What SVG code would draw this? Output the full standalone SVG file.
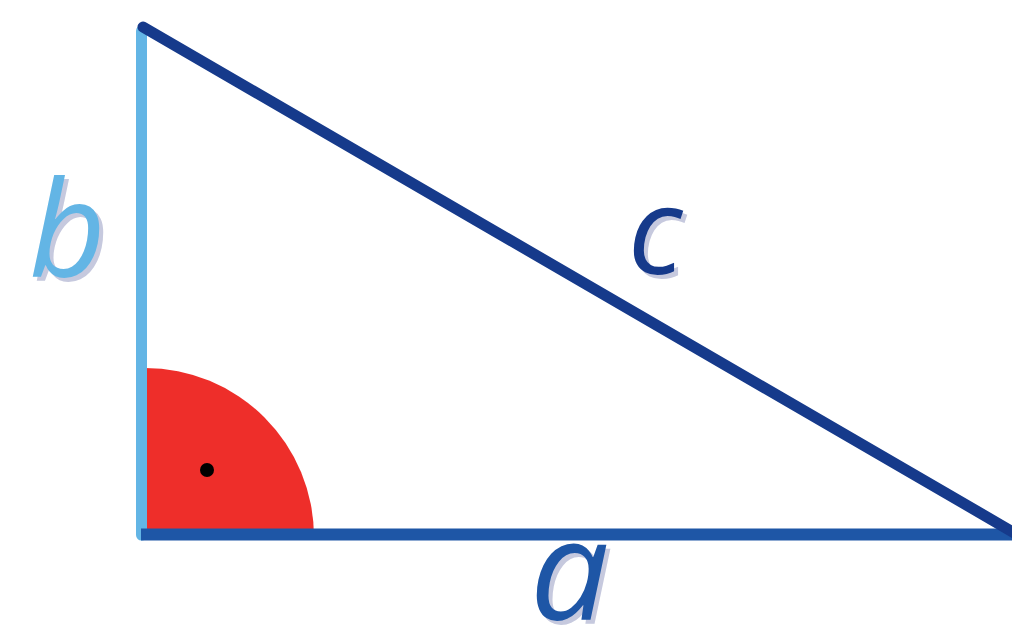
<svg xmlns="http://www.w3.org/2000/svg" width="1012" height="625" viewBox="0 0 1012 625">
<style>
.lbl{font-family:"Open Sans","Liberation Sans",sans-serif;font-style:italic;font-weight:500}
.sh{fill:#c6c9de}
</style>
<rect width="1012" height="625" fill="#ffffff"/>
<g id="angle">
<path d="M145,537 L145,368 A169,169 0 0 1 314,537 Z" fill="#ee2e2a"/>
<circle cx="207" cy="470" r="7" fill="#000"/>
</g>
<g id="edges">
<line id="edge-b" x1="141.5" y1="31" x2="141.5" y2="535" stroke="#63b5e5" stroke-width="11" stroke-linecap="round"/>
<line id="edge-a" x1="141" y1="534.5" x2="1012" y2="534.5" stroke="#1e56a6" stroke-width="12"/>
<line id="edge-c" x1="143" y1="27" x2="1018" y2="535" stroke="#163a8b" stroke-width="11" stroke-linecap="round"/>
</g>
<g id="label-b">
<text class="lbl sh" x="33" y="281" font-size="133">b</text>
<text class="lbl" x="29" y="277" font-size="133" fill="#63b5e5">b</text>
</g>
<g id="label-c">
<text class="lbl sh" x="632" y="278" font-size="120">c</text>
<text class="lbl" x="628" y="274" font-size="120" fill="#163a8b">c</text>
</g>
<g id="label-a">
<text class="lbl sh" x="534" y="624" font-size="140">a</text>
<text class="lbl" x="530" y="620" font-size="140" fill="#1e56a6">a</text>
</g>
</svg>
